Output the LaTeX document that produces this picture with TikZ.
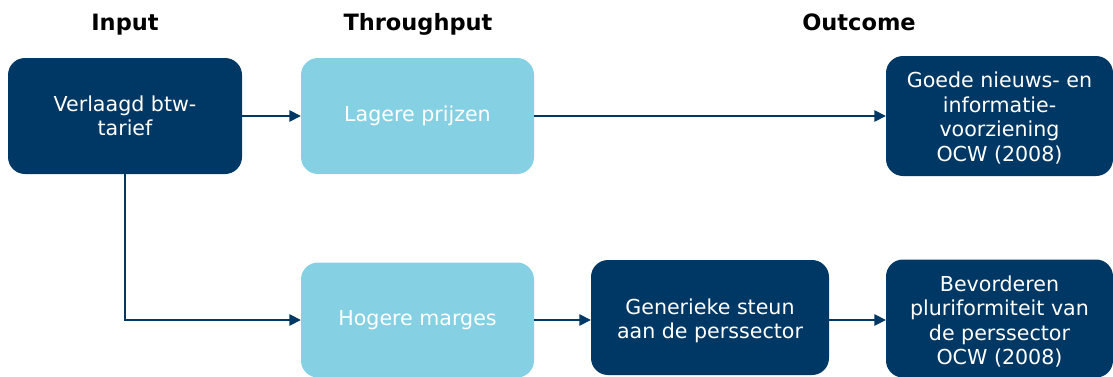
\documentclass[tikz,border=0pt]{standalone}
\usepackage{fontspec}
\setmainfont{DejaVu Sans}
\usetikzlibrary{arrows.meta}
\definecolor{navy}{RGB}{0,56,101}
\definecolor{lightblue}{RGB}{133,209,227}
\tikzset{
  boxtext/.style={inner sep=0pt, align=center, text=white,
    font=\fontsize{20.6}{24.5}\selectfont},
  box/.style={boxtext, rounded corners=17pt},
  darkbox/.style={box, fill=navy},
  lightbox/.style={box, fill=lightblue},
  title/.style={anchor=base, font=\fontsize{22.5}{26}\selectfont\bfseries, text=black},
  arr/.style={draw=navy, line width=1.6pt, -{Triangle[length=11.5pt,width=11.5pt]}}
}
\begin{document}
\begin{tikzpicture}[x=1pt,y=-1pt]
\useasboundingbox (0,0) rectangle (1113,376);
\node[title] (t1) at (125,30.5) {Input};
\node[title] (t2) at (418,30.5) {Throughput};
\node[title] (t3) at (859,30.5) {Outcome};

\node[darkbox, minimum width=234pt, minimum height=116pt] (in) at (125,116) {Verlaagd btw-\\tarief};
\node[lightbox, minimum width=233pt, minimum height=116pt] (lp) at (417.5,116) {Lagere prijzen};
\node[darkbox, minimum width=227pt, minimum height=120pt] (gn) at (999.5,116) {};
\node[boxtext] (gnt) at (999.5,118) {Goede nieuws- en\\informatie-\\voorziening\\OCW (2008)};
\node[lightbox, minimum width=233pt, minimum height=115pt] (hm) at (417.5,320) {Hogere marges};
\node[darkbox, minimum width=238pt, minimum height=115pt] (gs) at (710,317.5) {};
\node[boxtext] (gst) at (710,321) {Generieke steun\\aan de perssector};
\node[darkbox, minimum width=227pt, minimum height=118pt] (bp) at (999.5,318.5) {};
\node[boxtext] (bpt) at (999.5,321.5) {Bevorderen\\pluriformiteit van\\de perssector\\OCW (2008)};

\draw[arr] (in.east) -- (lp.west);
\draw[arr] (lp.east) -- (gn.west |- lp.east);
\draw[arr] (in.south) |- (hm.west);
\draw[arr] (hm.east) -- (gs.west |- hm.east);
\draw[arr] (gs.east |- hm.east) -- (bp.west |- hm.east);
\end{tikzpicture}
\end{document}
